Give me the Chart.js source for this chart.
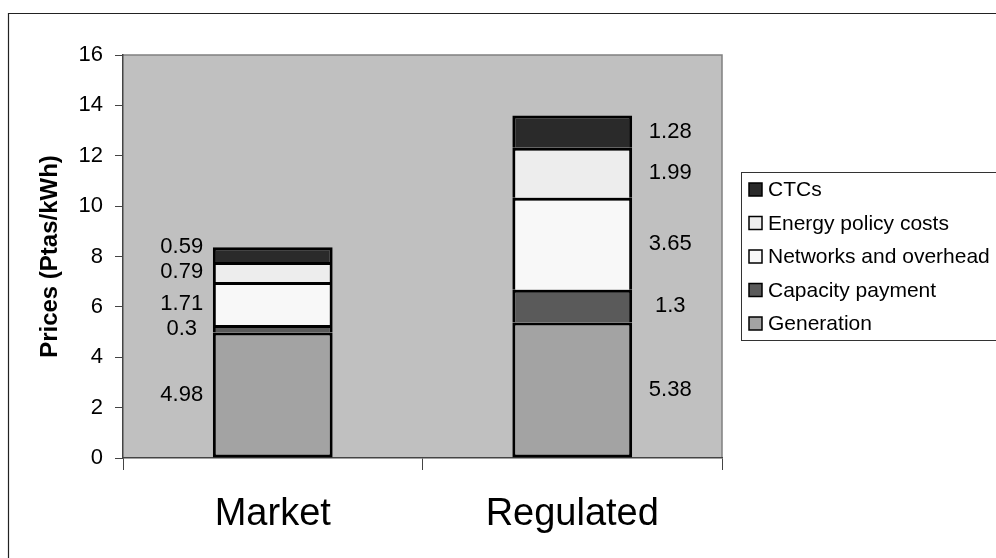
<!DOCTYPE html>
<html>
<head>
  <title>Prices (Ptas/kWh)</title>
  <script src="https://cdn.jsdelivr.net/npm/chart.js"></script>
  <style>
    body {
      margin: 0;
      background: #fff;
    }
    #wrap {
      width: 996px;
      height: 558px;
      position: relative;
    }
  </style>
</head>
<body>
  <div id="wrap"><canvas id="chart"></canvas></div>

  <script>
    var categories = ["Market", "Regulated"];
    var seriesNames = ["Generation", "Capacity payment", "Networks and overhead", "Energy policy costs", "CTCs"];
    var generation = [4.98, 5.38];
    var capacity = [0.3, 1.3];
    var networks = [1.71, 3.65];
    var policy = [0.79, 1.99];
    var ctcs = [0.59, 1.28];
    var colors = ["#a3a3a3", "#5a5a5a", "#f8f8f8", "#ededed", "#2a2a2a"];
    var yTicks = [0, 2, 4, 6, 8, 10, 12, 14, 16];

    Chart.defaults.font.family = '"Liberation Sans", Arial, sans-serif';
    Chart.defaults.color = "#000";

    // grey plot area and outer frame
    var plotBg = {
      id: "plotBg",
      beforeDraw: function(chart) {
        var a = chart.chartArea;
        var ctx = chart.ctx;
        ctx.save();
        ctx.fillStyle = "#c0c0c0";
        ctx.fillRect(a.left, a.top, a.right - a.left, a.bottom - a.top);
        ctx.strokeStyle = "#808080";
        ctx.lineWidth = 1.5;
        ctx.beginPath();
        ctx.moveTo(a.left, a.top);
        ctx.lineTo(a.right, a.top);
        ctx.lineTo(a.right, a.bottom);
        ctx.stroke();
        ctx.strokeStyle = "#222";
        ctx.lineWidth = 1.2;
        ctx.beginPath();
        ctx.moveTo(8.5, 560);
        ctx.lineTo(8.5, 13.5);
        ctx.lineTo(1000, 13.5);
        ctx.stroke();
        ctx.restore();
      }
    };

    // numbers beside each segment: left of the first bar, right of the second
    // labels closer than `gap` get pushed up so they don't overlap
    var segLabels = {
      id: "segLabels",
      afterDatasetsDraw: function(chart) {
        var ctx = chart.ctx;
        var gap = 25;
        ctx.save();
        ctx.font = '22px "Liberation Sans", Arial, sans-serif';
        ctx.fillStyle = "#000";
        ctx.textAlign = "center";
        ctx.textBaseline = "middle";
        chart.data.labels.forEach(function(cat, j) {
          var prev = null;
          chart.data.datasets.forEach(function(ds, i) {
            var bar = chart.getDatasetMeta(i).data[j];
            var x = j == 0 ? bar.x - 91 : bar.x + 98;
            var y = (bar.y + bar.base) / 2;
            if (prev !== null && y > prev - gap) y = prev - gap;
            prev = y;
            ctx.fillText(String(ds.data[j]), x, y);
          });
        });
        ctx.restore();
      }
    };

    // boxed legend on the right, top series first
    var sideLegend = {
      id: "sideLegend",
      afterDraw: function(chart) {
        var ctx = chart.ctx;
        var ds = chart.data.datasets;
        ctx.save();
        ctx.strokeStyle = "#333";
        ctx.lineWidth = 1;
        ctx.strokeRect(741.5, 172.5, 270, 168);
        ctx.font = '21px "Liberation Sans", Arial, sans-serif';
        ctx.textAlign = "left";
        ctx.textBaseline = "middle";
        for (var k = 0; k < ds.length; k++) {
          var d = ds[ds.length - 1 - k];
          var y = 189.5 + k * 33.5;
          ctx.fillStyle = d.backgroundColor;
          ctx.fillRect(749, y - 6.5, 13, 13);
          ctx.strokeStyle = "#000";
          ctx.lineWidth = 1.5;
          ctx.strokeRect(749, y - 6.5, 13, 13);
          ctx.fillStyle = "#000";
          ctx.fillText(d.label, 768, y + 1);
        }
        ctx.restore();
      }
    };

    var values = [generation, capacity, networks, policy, ctcs];
    var datasets = seriesNames.map(function(name, i) {
      return {
        label: name,
        data: values[i],
        backgroundColor: colors[i],
        borderColor: "#000",
        borderWidth: 3,
        borderSkipped: i == 0 ? false : "start",
        barPercentage: 0.4,
        categoryPercentage: 1.0
      };
    });

    var ctx = document.getElementById("chart").getContext("2d");
    var chart = new Chart(ctx, {
      type: "bar",
      data: { labels: categories, datasets: datasets },
      plugins: [plotBg, segLabels, sideLegend],
      options: {
        responsive: true,
        maintainAspectRatio: false,
        animation: false,
        layout: { padding: { left: 32, top: 55, right: 274, bottom: 0 } },
        plugins: {
          legend: { display: false },
          tooltip: { enabled: false }
        },
        scales: {
          x: {
            stacked: true,
            afterFit: function(s) { s.height = 100; },
            grid: {
              offset: true,
              drawOnChartArea: false,
              tickLength: 12,
              color: "#444"
            },
            border: { display: true, color: "#444", width: 1.5 },
            ticks: {
              font: { size: 38 },
              color: "#000",
              padding: 22
            }
          },
          y: {
            stacked: true,
            min: 0,
            max: 16,
            afterFit: function(s) { s.width = 91; },
            afterBuildTicks: function(s) {
              s.ticks = yTicks.map(function(v) { return { value: v }; });
            },
            grid: {
              drawOnChartArea: false,
              tickLength: 8,
              color: "#444"
            },
            border: { display: true, color: "#444", width: 1.5 },
            ticks: {
              font: { size: 22 },
              color: "#000",
              padding: 12
            },
            title: {
              display: true,
              text: "Prices (Ptas/kWh)",
              font: { size: 24, weight: "bold" },
              color: "#000"
            }
          }
        }
      }
    });
  </script>
</body>
</html>
